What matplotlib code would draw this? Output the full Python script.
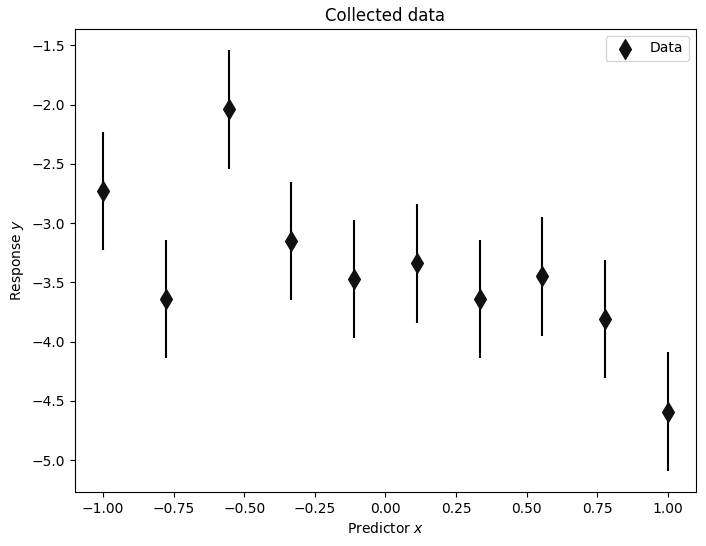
import numpy as np
import matplotlib
matplotlib.use('Agg')
import matplotlib.pyplot as plt

# data
x = np.linspace(-1, 1, 10)
y = [-2.73, -3.64, -2.04, -3.15, -3.47, -3.34, -3.64, -3.45, -3.81, -4.59]
yerr = 0.5

fig = plt.figure(figsize=(7.06, 5.46), dpi=100)
ax = fig.add_axes([0.106, 0.099, 0.880, 0.848])

ax.errorbar(x, y, yerr=yerr, fmt='none', ecolor='k', elinewidth=1.5, zorder=1)
ax.scatter(x, y, marker='d', s=100, color='#111111', label='Data', zorder=2)

ax.set_title('Collected data')
ax.set_xlabel('Predictor $x$')
ax.set_ylabel('Response $y$')
ax.legend(loc='upper right')

fig.savefig('out.png', dpi=100)
